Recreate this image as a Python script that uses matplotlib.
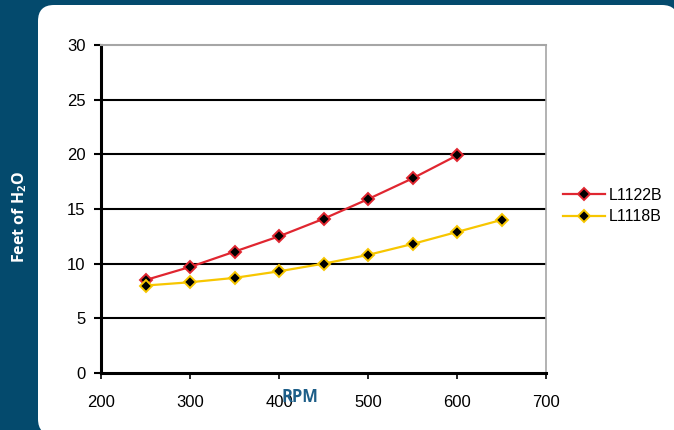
import matplotlib
matplotlib.use("Agg")
import matplotlib.pyplot as plt
from matplotlib.patches import FancyBboxPatch

rpm_a = [250, 300, 350, 400, 450, 500, 550, 600]
l1122b = [8.5, 9.7, 11.1, 12.5, 14.1, 15.9, 17.8, 19.9]
rpm_b = [250, 300, 350, 400, 450, 500, 550, 600, 650]
l1118b = [8.0, 8.3, 8.7, 9.3, 10.0, 10.8, 11.8, 12.9, 14.0]
xticks = [200, 300, 400, 500, 600, 700]
yticks = [0, 5, 10, 15, 20, 25, 30]

plt.rcParams['font.family'] = ['Liberation Sans', 'DejaVu Sans']

fig = plt.figure(figsize=(6.74, 4.3), dpi=100)
fig.patch.set_facecolor('#044a6d')
panel = FancyBboxPatch((0.38, -0.05), 6.40, 4.30,
                       boxstyle="round,pad=0,rounding_size=0.16",
                       transform=fig.dpi_scale_trans, facecolor='white',
                       edgecolor='none', zorder=-10)
fig.patches.append(panel)

ax = fig.add_axes([101/674, 1-373/430, (546-101)/674, (373-45)/430])
ax.set_zorder(5)
ax.set_facecolor('none')
ax.set_xlim(200, 700)
ax.set_ylim(0, 30)
ax.set_xticks(xticks)
ax.set_yticks(yticks)
ax.tick_params(axis='both', labelsize=12, colors='black', direction='out')
ax.tick_params(axis='y', length=5, width=1.5, pad=6)
ax.tick_params(axis='x', length=4, width=1.2, pad=12)

for y in yticks[1:-1]:
    ax.axhline(y, color='black', lw=1.5, zorder=1)
ax.spines['left'].set_linewidth(2.2)
ax.spines['bottom'].set_linewidth(2.2)
ax.spines['top'].set_color('#a6a6a6')
ax.spines['top'].set_linewidth(1.5)
ax.spines['right'].set_color('#a6a6a6')
ax.spines['right'].set_linewidth(1.2)

ax.plot(rpm_a, l1122b, color='#e02630', lw=1.6, marker='D', markersize=6.5,
        markerfacecolor='black', markeredgecolor='#e02630', markeredgewidth=1.4,
        label='L1122B', zorder=3)
ax.plot(rpm_b, l1118b, color='#f7c600', lw=1.6, marker='D', markersize=6.5,
        markerfacecolor='black', markeredgecolor='#f7c600', markeredgewidth=1.4,
        label='L1118B', zorder=3)

leg = ax.legend(loc='center left', bbox_to_anchor=(549/674, 1-206/430),
                bbox_transform=fig.transFigure, frameon=False, fontsize=11.5,
                handlelength=2.6, handletextpad=0.25, labelspacing=0.42)

fig.text(20/674, 1-217/430, 'Feet of H$_\\mathregular{2}$O', rotation=90,
         color='white', fontsize=11.5, fontweight='bold', ha='center', va='center',
         family=['Open Sans', 'DejaVu Sans'])
fig.text(300/674, 1-397/430, 'RPM', color='#1d5e88', fontsize=12,
         fontweight='bold', ha='center', va='center', zorder=10,
         family=['Open Sans', 'DejaVu Sans'])

fig.savefig('out.png', dpi=100, facecolor=fig.get_facecolor())
